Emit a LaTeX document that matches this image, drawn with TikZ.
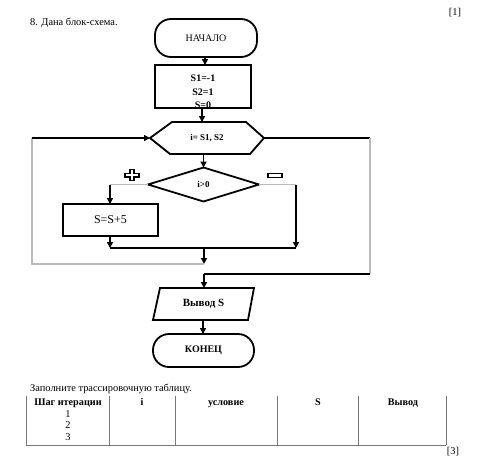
\documentclass[tikz,border=0pt]{standalone}
\usepackage{fontspec}
\setmainfont{Liberation Serif}
\usetikzlibrary{shapes.geometric,arrows.meta,calc}
\definecolor{lgray}{HTML}{BBBBBB}
\definecolor{tgray}{HTML}{777777}
\tikzset{
  blk/.style={draw=black,line width=1.8pt},
  gry/.style={draw=lgray,line width=1.8pt},
  arr/.style={-{Triangle[length=6pt,width=6pt]}},
  term/.style={draw,line width=1.8pt,rectangle,rounded corners=16pt,inner sep=0pt,outer sep=0pt},
  procbox/.style={draw,line width=1.8pt,rectangle,inner sep=0pt,outer sep=0pt},
  ghost/.style={rectangle,inner sep=0pt,outer sep=0pt},
  txt/.style={inner sep=0pt,font=\fontsize{10.4}{12}\selectfont},
  hd/.style={inner sep=0pt,anchor=base,font=\fontsize{10.2}{12}\selectfont\bfseries},
  tline/.style={draw=tgray,line width=0.6pt},
}
\begin{document}
\begin{tikzpicture}[x=1pt,y=-1pt]
\useasboundingbox[fill=white] (0,0) rectangle (500,463);

% header texts
\node[txt] (mark1) at (455,13) {[1]};
\node[txt,anchor=west] (title) at (30,23) {8. Дана блок-схема.};

% flowchart nodes
\node[term,minimum width=102pt,minimum height=38pt,font=\fontsize{10}{12}\selectfont] (start) at (206,38) {НАЧАЛО};
\node[procbox,minimum width=96pt,minimum height=43pt] (init) at (203,86.5) {};
\begin{scope}
\clip (init.north west) rectangle (init.south east);
\node[inner sep=0pt,align=center,font=\fontsize{10}{13.5}\selectfont\bfseries,anchor=north] (inittxt) at (203,75) {S1=-1\\S2=1\\S=0};
\end{scope}
\draw[blk] (init.north west) rectangle (init.south east);

\node[ghost,minimum width=114pt,minimum height=32pt,font=\fontsize{9}{11}\selectfont\bfseries] (hex) at (207,138) {i= S1, S2};
\draw[blk,line join=miter] (hex.west) -- ([xshift=22pt]hex.north west) -- ([xshift=-18pt]hex.north east) -- (hex.east) -- ([xshift=-14pt]hex.south east) -- ([xshift=20pt]hex.south west) -- cycle;

\node[diamond,draw,line width=1.8pt,inner sep=0pt,outer sep=0pt,minimum width=111pt,minimum height=34pt,font=\fontsize{9}{11}\selectfont\bfseries] (dia) at (203.5,184.5) {i>0};

\node[procbox,minimum width=95pt,minimum height=32pt,font=\fontsize{12}{14}\selectfont] (add) at (110.5,220) {S=S+5};

\node[ghost,minimum width=101pt,minimum height=32pt,font=\fontsize{11}{13}\selectfont\bfseries] (out) at (203.5,304) {Вывод S};
\draw[blk,line join=miter] ([xshift=7pt]out.north west) -- (out.north east) -- ([xshift=-6pt]out.south east) -- (out.south west) -- cycle;

\node[term,minimum width=101pt,minimum height=33pt,font=\fontsize{10}{12}\selectfont\bfseries] (end) at (203.5,350.5) {КОНЕЦ};

% plus and minus signs
\node[ghost,minimum width=14pt,minimum height=11pt] (plus) at (132,175) {};
\draw[line width=1.4pt,fill=white] ($(plus.center)+(-2,-5.5)$) -- ($(plus.center)+(2,-5.5)$) -- ($(plus.center)+(2,-1.8)$) -- ($(plus.center)+(7,-1.8)$) -- ($(plus.center)+(7,1.8)$) -- ($(plus.center)+(2,1.8)$) -- ($(plus.center)+(2,5.5)$) -- ($(plus.center)+(-2,5.5)$) -- ($(plus.center)+(-2,1.8)$) -- ($(plus.center)+(-7,1.8)$) -- ($(plus.center)+(-7,-1.8)$) -- ($(plus.center)+(-2,-1.8)$) -- cycle;
\node[draw,line width=1.4pt,fill=white,inner sep=0pt,minimum width=14pt,minimum height=4.5pt] (minus) at (275,175.5) {};

% coordinates
\coordinate (xa) at (205,0);
\coordinate (xb) at (202,0);
\coordinate (xc) at (203,0);
\coordinate (lb) at (110,184.5);
\coordinate (rb) at (296,184.5);
\coordinate (lj) at (110,248);
\coordinate (rj) at (296,248);
\coordinate (mj) at (204,248);
\coordinate (loopend) at (204,264);
\coordinate (cL2) at (32,264);
\coordinate (cL1) at (32,138);
\coordinate (cR1) at (370,138);
\coordinate (cR2) at (370,274);
\coordinate (cM) at (204,274);
\coordinate (hextop) at (202,122);

% connectors
\draw[blk,arr] (start.south -| xa) -- (init.north -| xa);
\draw[blk,arr] (init.south -| xb) -- (hextop);
\draw[blk,arr] (dia.north |- hex.south) -- (dia.north);
\draw[gry] (dia.west) -- (lb);
\draw[blk,arr] (lb) -- (add.north -| lb);
\draw[gry] (dia.east) -- (rb);
\draw[blk,arr] (rb) -- (rj);
\draw[blk,arr] (add.south -| lj) -- (lj);
\draw[blk] (lj) -- (rj);
\draw[blk,arr] (mj) -- (loopend);
\draw[gry] (loopend) -- (cL2) -- (cL1);
\draw[blk,arr] (cL1) -- (hex.west);
\draw[blk] (hex.east) -- (cR1);
\draw[gry] (cR1) -- (cR2);
\draw[blk] (cR2) -- (cM);
\draw[blk,arr] (cM) -- (out.north -| cM);
\draw[blk,arr] (out.south -| xc) -- (end.north -| xc);

% table
\node[txt,anchor=west] (task) at (30,389) {Заполните трассировочную таблицу.};
\coordinate (t0) at (26,396);
\coordinate (t1) at (109,396);
\coordinate (t2) at (175,396);
\coordinate (t3) at (277,396);
\coordinate (t4) at (358,396);
\coordinate (t5) at (446,396);
\foreach \c in {t0,t1,t2,t3,t4,t5} \draw[tline] (\c) -- ++(0,49);
\draw[tline] ($(t0)+(0,49)$) -- ($(t5)+(0,49)$);
\node[hd] (h1) at (68,405.5) {Шаг итерации};
\node[hd] (h2) at (142,405.5) {i};
\node[hd] (h3) at (226,405.5) {условие};
\node[hd] (h4) at (318,405.5) {S};
\node[hd] (h5) at (403,405.5) {Вывод};
\node[txt] (r1) at (68,414) {1};
\node[txt] (r2) at (68,425.5) {2};
\node[txt] (r3) at (68,437) {3};
\node[txt] (mark3) at (453,452) {[3]};
\end{tikzpicture}
\end{document}
